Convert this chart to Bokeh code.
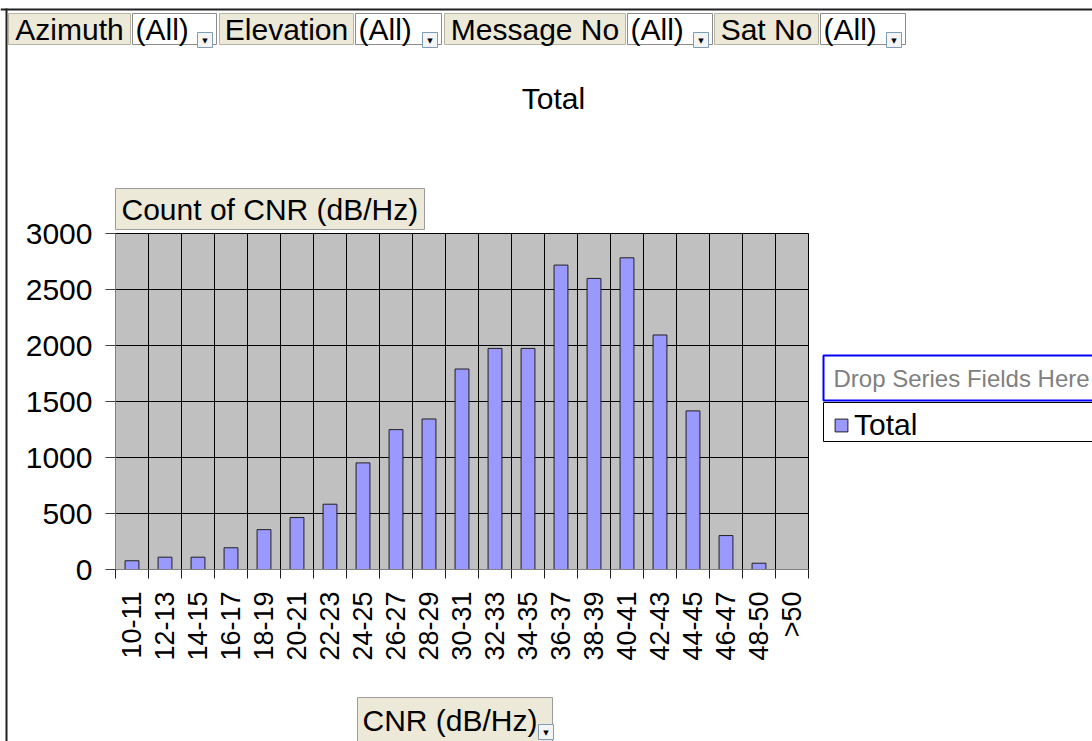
import math
from bokeh.plotting import figure
from bokeh.models import (Range1d, FixedTicker, BoxAnnotation, Label, Legend,
                          LegendItem, ColumnDataSource, LinearAxis)
from bokeh.embed import file_html
from bokeh.resources import INLINE

# ---------------- data ----------------
categories = ["10-11", "12-13", "14-15", "16-17", "18-19", "20-21", "22-23",
              "24-25", "26-27", "28-29", "30-31", "32-33", "34-35", "36-37",
              "38-39", "40-41", "42-43", "44-45", "46-47", "48-50", ">50"]
counts = [78, 110, 110, 194, 356, 464, 583, 952, 1249, 1344, 1790, 1974,
          1974, 2718, 2599, 2783, 2094, 1416, 303, 56, 0]
y_ticks = [0, 500, 1000, 1500, 2000, 2500, 3000]
filter_fields = ["Azimuth", "Elevation", "Message No", "Sat No"]
filter_values = ["(All)", "(All)", "(All)", "(All)"]
chart_title = "Total"
y_title = "Count of CNR (dB/Hz)"
x_title = "CNR (dB/Hz)"
series_name = "Total"
drop_hint = "Drop Series Fields Here"

# ---------------- layout constants (page px) ----------------
W, H = 1092, 741
PL, PR, PT, PB = 115, 808, 233, 569      # plot-area edges in pixels
FONT = "Liberation Sans"
FS = "30px"
BEIGE = "#ECE9D8"
BAR = "#9999FF"

n = len(categories)
y_max = y_ticks[-1]
centers = [i + 0.5 for i in range(n)]
bounds = list(range(n + 1))

# ranges chosen so that the frame spans the whole canvas while the
# category / count scales land on the plot area
xs = (PR - PL) / n
x_start = -PL / xs
ys = (PB - PT) / y_max
y_start = -(H - PB) / ys

p = figure(width=W, height=H,
           x_range=Range1d(x_start, x_start + W / xs),
           y_range=Range1d(y_start, y_start + H / ys),
           x_axis_location=None, y_axis_location=None,
           output_backend="svg", toolbar_location=None, min_border=0,
           background_fill_color="white", border_fill_color="white",
           outline_line_color=None)
p.xgrid.visible = False
p.ygrid.visible = False

# plot area + grid
p.quad(left=0, right=n, bottom=0, top=y_max, fill_color="#C0C0C0",
       line_color="#808080", line_width=1)
p.segment(x0=bounds, y0=0, x1=bounds, y1=y_max, line_color="black", line_width=1)
p.segment(x0=0, y0=y_ticks[1:], x1=n, y1=y_ticks[1:], line_color="black", line_width=1)

src = ColumnDataSource(dict(x=centers, top=counts, cat=categories))
bars = p.vbar(x="x", top="top", bottom=0, width=0.42, source=src,
              fill_color=BAR, line_color="#202020", line_width=1)

xa = LinearAxis(fixed_location=0, bounds=(0, n),
                ticker=FixedTicker(ticks=centers, minor_ticks=bounds))
xa.major_label_overrides = {c: lab for c, lab in zip(centers, categories)}
xa.major_tick_line_color = None
xa.major_tick_out = 0
xa.major_tick_in = 0
xa.minor_tick_line_color = "#202020"
xa.minor_tick_out = 9
xa.minor_tick_in = 0
xa.axis_line_color = "#808080"
xa.major_label_orientation = math.pi / 2
xa.major_label_text_font = FONT
xa.major_label_text_font_size = "27px"
xa.major_label_text_color = "black"
xa.major_label_standoff = 13
p.add_layout(xa, "below")

ya = LinearAxis(fixed_location=0, bounds=(0, y_max), ticker=FixedTicker(ticks=y_ticks))
ya.minor_tick_line_color = None
ya.major_tick_out = 10
ya.major_tick_in = 0
ya.major_tick_line_color = "#404040"
ya.axis_line_color = "#808080"
ya.major_label_text_font = FONT
ya.major_label_text_font_size = FS
ya.major_label_text_color = "black"
ya.major_label_standoff = 13
p.add_layout(ya, "left")


def box(l, t, r, b, fill, line=None, lw=1):
    p.add_layout(BoxAnnotation(left=l, right=r, top=t, bottom=b,
                               left_units="canvas", right_units="canvas",
                               top_units="canvas", bottom_units="canvas",
                               fill_color=fill, fill_alpha=1.0,
                               line_color=line, line_alpha=1.0 if line else 0,
                               line_width=lw))


def text(x, y, s, size=FS, color="black", align="left", font=FONT):
    p.add_layout(Label(x=x, y=y, x_units="canvas", y_units="canvas", text=s,
                       text_font=font, text_font_size=size, text_color=color,
                       text_align=align, text_baseline="middle"))


def dropdown(r, t):
    box(r - 15, t, r, t + 15, "#F4F4F4", "#7F9DB9", 1)
    text(r - 7.5, t + 8.5, "\u25BC", size="7px", color="black", align="center",
         font="DejaVu Sans")


# page border lines
box(0, 8, W, 10, "#202020")
box(5, 8, 7, H, "#202020")

# page (filter) fields
field_boxes = [(8, 130), (219, 353), (444, 625), (714, 818)]
value_boxes = [(132, 216), (355, 441), (627, 712), (820, 905)]
for (fl, fr), (vl, vr), f, v in zip(field_boxes, value_boxes, filter_fields, filter_values):
    box(fl, 13, fr, 44, BEIGE, "#B8B4A4")
    text((fl + fr) / 2, 29, f, align="center")
    box(vl, 13, vr, 44, "white", "#8A8A8A")
    text(vl + 3, 29, v)
    dropdown(vr - 4, 32)

# chart title
text(553, 98, chart_title, align="center")

# data field button
box(115, 188, 424, 229, BEIGE, "#9D9D9D")
text(121, 209, y_title)

# category field button
box(357, 697, 552, 745, BEIGE, "#9D9D9D")
text(362, 720, x_title)
dropdown(553, 724)

# series drop zone
box(823, 355, W + 10, 400, "white", "#0000FF", 2)
text(833, 378, drop_hint, size="24px", color="#808080")

# legend frame + legend
box(823, 402, W + 10, 441, "white", "black", 1)
legend = Legend(items=[LegendItem(label=series_name, renderers=[bars])],
                location=(833, H - 442), border_line_color=None,
                background_fill_alpha=0, padding=0, margin=0,
                glyph_width=16, glyph_height=16, label_standoff=5,
                label_height=16,
                label_text_font=FONT, label_text_font_size=FS,
                label_text_color="black", spacing=0)
p.add_layout(legend)

open("out.html", "w").write(file_html(p, INLINE))
